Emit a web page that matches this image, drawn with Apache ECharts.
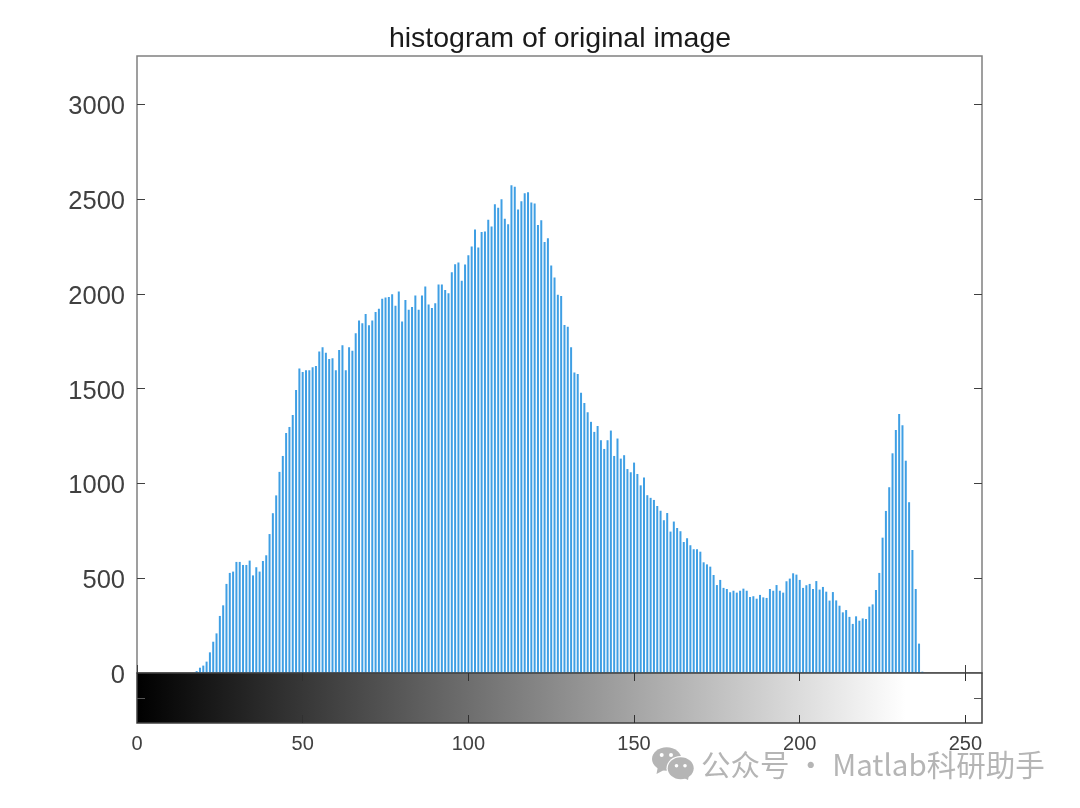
<!DOCTYPE html>
<html><head><meta charset="utf-8">
<style>html,body{margin:0;padding:0;background:#fff}#c{width:1080px;height:808px}</style>
<script src="https://cdn.jsdelivr.net/npm/echarts@6/dist/echarts.min.js"></script>
</head><body><div id="c"></div>
<script>
const titleText = 'histogram of original image';
const firstBin = 18;
const counts = [
10,28,39,60,109,165,209,301,357,470,528,535,586,586,570,570,593,515,558,535,591,621,733,843,937,1061,1145,1266,1298,1361,1493,1606,
1588,1597,1597,1613,1620,1696,1719,1690,1657,1660,1597,1704,1729,1597,1719,1700,1793,1859,1845,1894,1834,1859,1905,1921,1974,1981,1983,1998,1937,2012,1854,1968,1916,1931,1991,1916,
1991,2039,1944,1926,1951,2049,2049,2021,2003,2114,2157,2165,2069,2155,2204,2250,2340,2245,2327,2329,2391,2355,2473,2454,2499,2396,2367,2573,2565,2445,2489,2531,2536,2482,2477,2364,2389,2274,2294,2150,2086,1995,1989,1836,1827,1719,1585,1578,1478,1425,1376,1325,1272,1303,1228,1182,1228,1279,1145,1237,1131,1149,1076,1059,1110,1050,990,1031,938,924,913,881,
856,806,844,746,799,765,748,691,711,674,653,653,640,584,573,561,517,464,491,449,443,426,434,424,434,445,434,401,405,392,412,399,396,443,434,464,434,424,484,498,526,519,491,449,463,470,443,485,440,454,429,382,427,383,355,320,332,296,259,299,276,288,285,350,362,438,528,714,855,980,1159,1282,1367,1307,1120,901,649,443,155,7];
const xTicks = [0,50,100,150,200,250];
const yTicks = [0,500,1000,1500,2000,2500,3000];
const stripTicks = [0.5];
const grayRamp = [[0,255]];
const whiteFrom = 232;
const watermark = '公众号 · Matlab科研助手';

const tickLabelColor = '#404040';
const frame = '#808080';
const seriesData = counts.map((v,i)=>[firstBin+i,v]);
const font = '"Liberation Sans", Arial, sans-serif';
const inTick = (vals,c)=>({show:true,inside:true,length:8,customValues:vals,lineStyle:{color:c||'#404040',width:1}});
const noLine = {show:false,onZero:false};

const chart = echarts.init(document.getElementById('c'),null,{renderer:'canvas'});
chart.setOption({
  animation:false,
  backgroundColor:'#fff',
  title:{text:titleText,left:555,top:20,textAlign:'center',
    textStyle:{fontFamily:font,fontSize:28.5,fontWeight:'normal',color:'#1a1a1a'}},
  grid:[
    {left:137,top:56,width:845,height:617,show:true,borderColor:frame,borderWidth:1.5,backgroundColor:'#fff'},
    {left:137,top:673,width:845,height:50,show:true,borderColor:'#404040',borderWidth:1.5,z:5}
  ],
  xAxis:[
    {gridIndex:0,type:'value',min:0,max:255,interval:50,axisLine:noLine,axisTick:inTick(xTicks),axisLabel:{show:false},splitLine:{show:false}},
    {gridIndex:1,type:'value',min:0,max:255,interval:50,axisLine:noLine,axisTick:inTick(xTicks,'#303030'),
      axisLabel:{show:true,customValues:xTicks,formatter:v=>String(v),fontFamily:font,fontSize:20,color:tickLabelColor,margin:11},splitLine:{show:false},z:6},
    {gridIndex:1,type:'value',position:'top',min:0,max:255,interval:50,axisLine:noLine,axisTick:inTick(xTicks,'#303030'),axisLabel:{show:false},splitLine:{show:false},z:6}
  ],
  yAxis:[
    {gridIndex:0,type:'value',min:0,max:3255,interval:500,axisLine:noLine,axisTick:inTick(yTicks),
      axisLabel:{show:true,customValues:yTicks,formatter:v=>'{n|'+v+'}',margin:12,
        rich:{n:{fontFamily:font,fontSize:25.5,color:tickLabelColor,padding:[6,0,0,0]}}},splitLine:{show:false}},
    {gridIndex:0,type:'value',position:'right',min:0,max:3255,interval:500,axisLine:noLine,axisTick:inTick(yTicks),axisLabel:{show:false},splitLine:{show:false}},
    {gridIndex:1,type:'value',min:0,max:1,interval:0.5,axisLine:noLine,axisTick:inTick(stripTicks,'#555'),axisLabel:{show:false},splitLine:{show:false},z:6},
    {gridIndex:1,type:'value',position:'right',min:0,max:1,interval:0.5,axisLine:noLine,axisTick:inTick(stripTicks,'#555'),axisLabel:{show:false},splitLine:{show:false},z:6}
  ],
  series:[
    {type:'bar',xAxisIndex:0,yAxisIndex:0,data:seriesData,barWidth:2,itemStyle:{color:'#3f9fe4'},silent:true},
    {type:'custom',xAxisIndex:1,yAxisIndex:2,data:grayRamp,silent:true,z:1,clip:true,
      renderItem:(p,api)=>{
        const a=api.coord([api.value(0),1]), b=api.coord([api.value(1),0]);
        const w=b[0]-a[0];
        const stop=whiteFrom/(api.value(1)-api.value(0));
        return {type:'rect',shape:{x:a[0],y:a[1],width:w,height:b[1]-a[1]},
          style:{fill:new echarts.graphic.LinearGradient(0,0,1,0,[
            {offset:0,color:'#000'},{offset:stop,color:'#fff'},{offset:1,color:'#fff'}])}};
      }}
  ],
  graphic:[
    {type:'group',silent:true,z:20,children:[
      {type:'ellipse',shape:{cx:666.7,cy:759,rx:14.7,ry:11.7},style:{fill:'#b5b5b5'}},
      {type:'polygon',shape:{points:[[658,766],[664,770],[656.5,774]]},style:{fill:'#b5b5b5'}},
      {type:'circle',shape:{cx:661.7,cy:755,r:2},style:{fill:'#fff'}},
      {type:'circle',shape:{cx:671,cy:755,r:2},style:{fill:'#fff'}},
      {type:'ellipse',shape:{cx:680.7,cy:768.3,rx:14.2,ry:12.2},style:{fill:'#fff'}},
      {type:'ellipse',shape:{cx:680.7,cy:768.3,rx:13,ry:11},style:{fill:'#b5b5b5'}},
      {type:'polygon',shape:{points:[[682,777],[689,775],[688,780]]},style:{fill:'#b5b5b5'}},
      {type:'circle',shape:{cx:676.5,cy:765.7,r:1.8},style:{fill:'#fff'}},
      {type:'circle',shape:{cx:685,cy:765.7,r:1.8},style:{fill:'#fff'}},
      {type:'text',x:701,y:765,style:{text:watermark,fill:'#b5b5b5',fontFamily:'"Noto Sans CJK SC","Noto Sans",sans-serif',fontSize:29.5,verticalAlign:'middle',align:'left'}}
    ]}
  ]
});
</script></body></html>
